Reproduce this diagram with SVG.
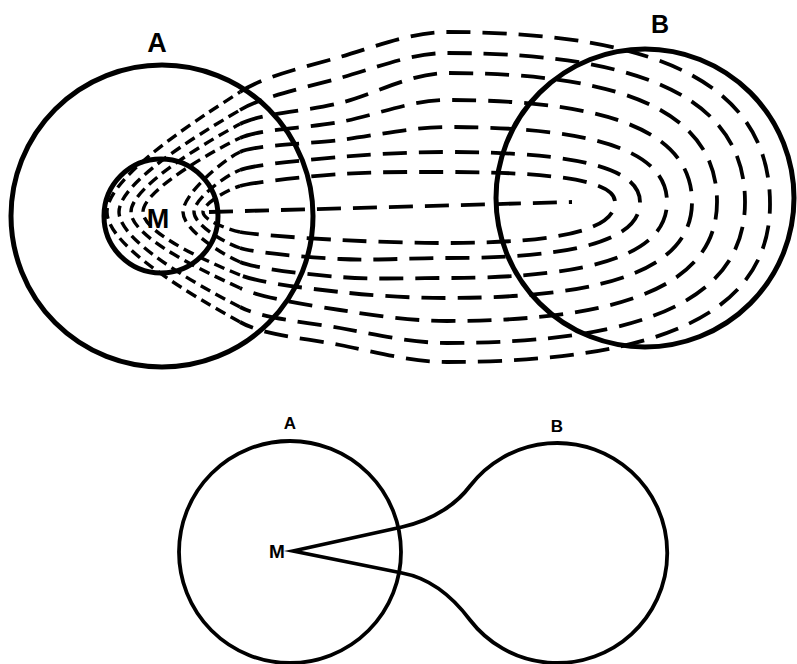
<svg xmlns="http://www.w3.org/2000/svg" width="797" height="664" viewBox="0 0 797 664">
<style>
.ring{fill:none;stroke:#000;stroke-width:5}
.ring2{fill:none;stroke:#000;stroke-width:3.8;stroke-linejoin:miter;stroke-miterlimit:20}
.far{fill:none;stroke:#000;stroke-width:3.8;stroke-dasharray:24 12}
.near{fill:none;stroke:#000;stroke-width:3.4;stroke-dasharray:11 6}
.lbl{font-family:"Liberation Sans",Arial,sans-serif;font-weight:bold;fill:#000;text-anchor:middle}
</style>
<rect width="797" height="664" fill="#fff"/>
<g id="field-lines">
<path class="near" d="M240,232 C226.3,229.2 203,219.67 203,212 C203,204.33 226.3,189.8 240,186"/>
<path class="near" d="M240,248 C225.4,243.3 194,225 194,212 C194,199 225.4,175.5 240,170"/>
<path class="near" d="M240,262 C224.3,255.5 183,230.33 183,212 C183,193.67 224.3,159.2 240,152"/>
<path class="near" d="M240,275 C220.3,267 143,234.83 143,212 C143,189.17 220.3,147 240,138"/>
<path class="near" d="M240,288 C219.1,278.2 131,239.33 131,212 C131,184.67 219.1,134.9 240,124"/>
<path class="near" d="M240,307 C217.9,295.4 119,244.83 119,212 C119,179.17 217.9,123.4 240,110"/>
<path class="near" d="M240,322 C216.7,308.7 107,250.33 107,212 C107,173.67 216.7,107.5 240,92"/>
<path class="far" d="M240,186 C253.7,182.2 305.5,176.33 340,174 C374.5,171.67 411,172 447,172 C564.6,172 615,182.5 615,202 C615,228.65 564.6,243 447,243 C411,243 374.5,241.83 340,240 C305.5,238.17 253.7,234.8 240,232"/>
<path class="far" d="M240,170 C254.6,164.5 305.5,160 340,157 C374.5,154 411,152 447,152 C582.1,152 640,169.5 640,202 C640,238.4 582.1,258 447,258 C411,258 374.5,260.67 340,259 C305.5,257.33 254.6,252.7 240,248"/>
<path class="far" d="M240,152 C255.7,144.8 305.5,144.17 340,140 C374.5,135.83 411,127 447,127 C601,127 667,153.25 667,202 C667,251.4 601,278 447,278 C411,278 374.5,279.67 340,277 C305.5,274.33 255.7,268.5 240,262"/>
<path class="far" d="M240,138 C259.7,129 305.5,128.33 340,122 C374.5,115.67 411,100 447,100 C618.5,100 692,135.7 692,202 C692,264.4 618.5,298 447,298 C411,298 374.5,295.83 340,292 C305.5,288.17 259.7,283 240,275"/>
<path class="far" d="M240,124 C260.9,113.1 305.5,111.5 340,103 C374.5,94.5 411,73 447,73 C636,73 717,118.15 717,202 C717,279.35 636,321 447,321 C411,321 374.5,315.5 340,310 C305.5,304.5 260.9,297.8 240,288"/>
<path class="far" d="M240,110 C262.1,96.6 305.5,87.5 340,78 C374.5,68.5 411,53 447,53 C655.6,53 745,105.15 745,202 C745,293.65 655.6,343 447,343 C411,343 374.5,334 340,328 C305.5,322 262.1,318.6 240,307"/>
<path class="far" d="M240,92 C263.3,76.5 305.5,67 340,57 C374.5,47 411,32 447,32 C673.1,32 770,92.2 770,204 C770,306.7 673.1,362 447,362 C411,362 374.5,351.67 340,345 C305.5,338.33 263.3,335.3 240,322"/>
<path class="far" d="M209,212 L572,202"/>
</g>
<g id="node-A">
<circle class="ring" cx="162" cy="216" r="151"/>
<text class="lbl" x="157" y="52" font-size="27">A</text>
</g>
<g id="node-M">
<circle class="ring" cx="161" cy="216" r="57"/>
<text class="lbl" x="158" y="228" font-size="27">M</text>
</g>
<g id="node-B">
<circle class="ring" cx="645" cy="198" r="149"/>
<text class="lbl" x="660" y="33" font-size="25">B</text>
</g>
<g id="node-A2">
<circle class="ring2" cx="290" cy="552" r="111"/>
<text class="lbl" x="290" y="429" font-size="17">A</text>
</g>
<g id="node-B2">
<path class="ring2" d="M293,551 L402,527 C436,519.5 458,502 470,486 A110,110 0 1 1 470,620 C458,604 435,579 402,573 Z"/>
<text class="lbl" x="557" y="432" font-size="17">B</text>
</g>
<g id="node-M2">
<text class="lbl" x="277" y="558" font-size="19">M</text>
</g>
</svg>
